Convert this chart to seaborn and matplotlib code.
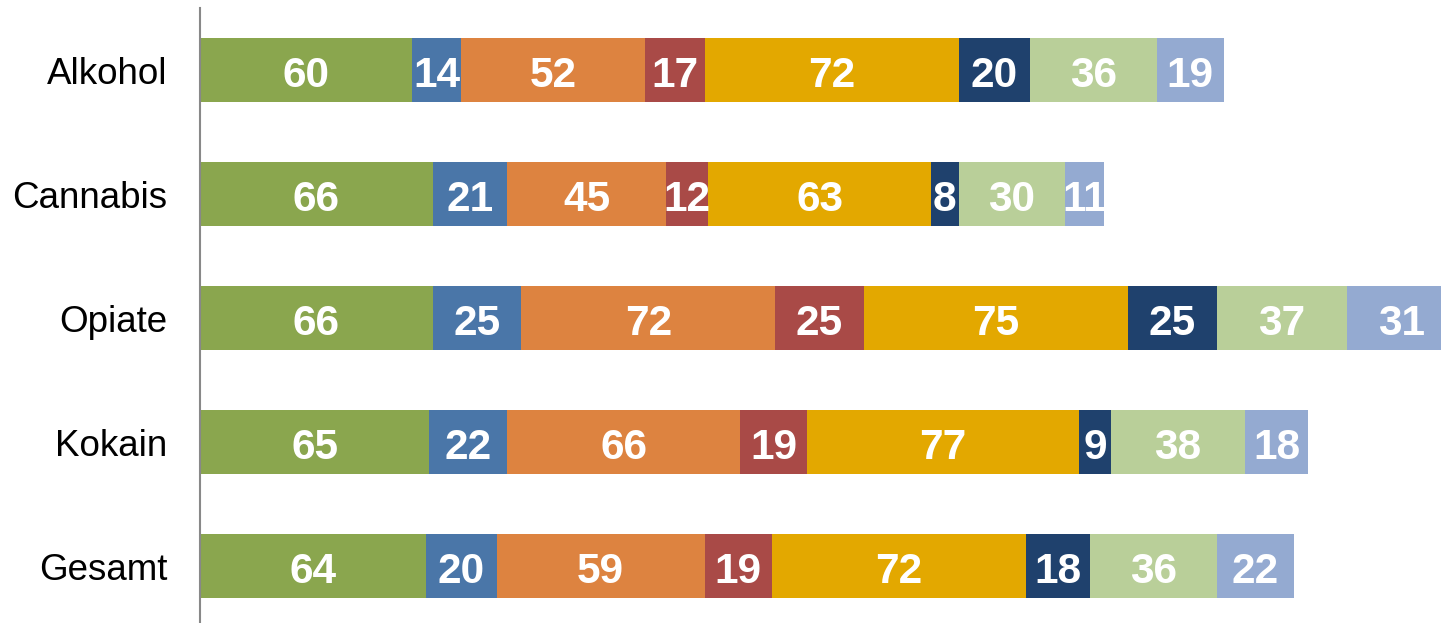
import matplotlib
matplotlib.use("Agg")
import matplotlib.pyplot as plt
import seaborn as sns
import pandas as pd
import numpy as np

categories = ["Alkohol", "Cannabis", "Opiate", "Kokain", "Gesamt"]
s1 = [60, 66, 66, 65, 64]
s2 = [14, 21, 25, 22, 20]
s3 = [52, 45, 72, 66, 59]
s4 = [17, 12, 25, 19, 19]
s5 = [72, 63, 75, 77, 72]
s6 = [20, 8, 25, 9, 18]
s7 = [36, 30, 37, 38, 36]
s8 = [19, 11, 31, 18, 22]
series = [s1, s2, s3, s4, s5, s6, s7, s8]
colors = ["#8AA64E", "#4A76A8", "#DD8340", "#A94A47", "#E3A800", "#1F416D", "#B9CF99", "#94AAD1"]

sns.set_theme(style="white")
plt.rcParams['font.family'] = ['Liberation Sans', 'DejaVu Sans']

fig = plt.figure(figsize=(14.41, 6.23), dpi=100)
ax = fig.add_axes([200/1441, -5/623, 1241/1441, 620/623])

cum = np.cumsum(np.array(series), axis=0)
# draw cumulative totals from last to first so that earlier segments overlay later ones
for k in range(len(series) - 1, -1, -1):
    df = pd.DataFrame({"cat": categories, "val": cum[k]})
    sns.barplot(data=df, x="val", y="cat", orient="h", color=colors[k], width=0.512,
                saturation=1, linewidth=0, ax=ax)

for k, vals in enumerate(series):
    start = cum[k] - np.array(vals)
    for i, v in enumerate(vals):
        ax.text(start[i] + v / 2, i + 0.135, str(v),
                ha="center", va="baseline", color="white", fontsize=30.5, fontweight="bold")

ax.set_ylabel("")
ax.set_xlabel("")
ax.set_yticks(range(len(categories)))
ax.set_yticklabels(categories, fontsize=26.5, color="black")
ax.tick_params(axis="y", length=0, pad=23.5)
ax.set_xticks([])
ax.set_xlim(0, 1241 / 3.53)
ax.set_ylim(4.5, -0.5)
for s in ["top", "right", "bottom"]:
    ax.spines[s].set_visible(False)
ax.spines["left"].set_color("#888888")
ax.spines["left"].set_linewidth(1.5)

fig.savefig("out.png", dpi=100)
